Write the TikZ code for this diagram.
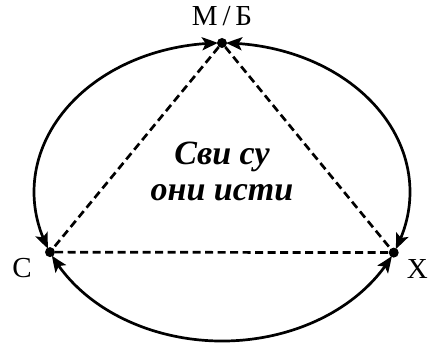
\documentclass[tikz,border=0pt]{standalone}
\usepackage{fontspec}
\setmainfont{Liberation Serif}
\usetikzlibrary{arrows.meta,bending}
\begin{document}
\begin{tikzpicture}[x=1pt,y=1pt,
  arcline/.style={line width=2.7pt,shorten <=4pt,shorten >=4pt,
    {Stealth[length=16pt,width=13pt,inset=3.5pt,bend]}-{Stealth[length=16pt,width=13pt,inset=3.5pt,bend]}},
  dashline/.style={line width=2.7pt,dash pattern=on 8pt off 4.5pt},
  dot/.style={circle,fill,inner sep=0pt,minimum size=10pt},
  lbl/.style={font=\fontsize{29}{29}\selectfont,inner sep=0pt},
  centertext/.style={font=\bfseries\itshape\fontsize{34}{36}\selectfont,align=center,inner sep=0pt}]
\useasboundingbox (0,0) rectangle (429,346);
\begin{scope}[shift={(222,154)}]
  \node[dot] (T) at (90:188pt and 149pt) {};
  \node[dot] (C) at (203.8:188pt and 149pt) {};
  \node[dot] (X) at (336:188pt and 149pt) {};
\end{scope}
\draw[arcline] (T.center) arc[start angle=90,end angle=203.8,x radius=188pt,y radius=149pt];
\draw[arcline] (C.center) arc[start angle=203.8,end angle=336,x radius=188pt,y radius=149pt];
\draw[arcline] (X.center) arc[start angle=-24,end angle=90,x radius=188pt,y radius=149pt];
\draw[dashline] (T) -- (C);
\draw[dashline] (T) -- (X);
\draw[dashline] (C) -- (X);
\node[lbl] (lT) at (222,329.5) {М\,/\,Б};
\node[lbl] (lC) at (22,78) {С};
\node[lbl,anchor=east] (lX) at (428,77) {Х};
\node[centertext] (txt) at (222,175) {Сви су\\они исти};
\end{tikzpicture}
\end{document}
